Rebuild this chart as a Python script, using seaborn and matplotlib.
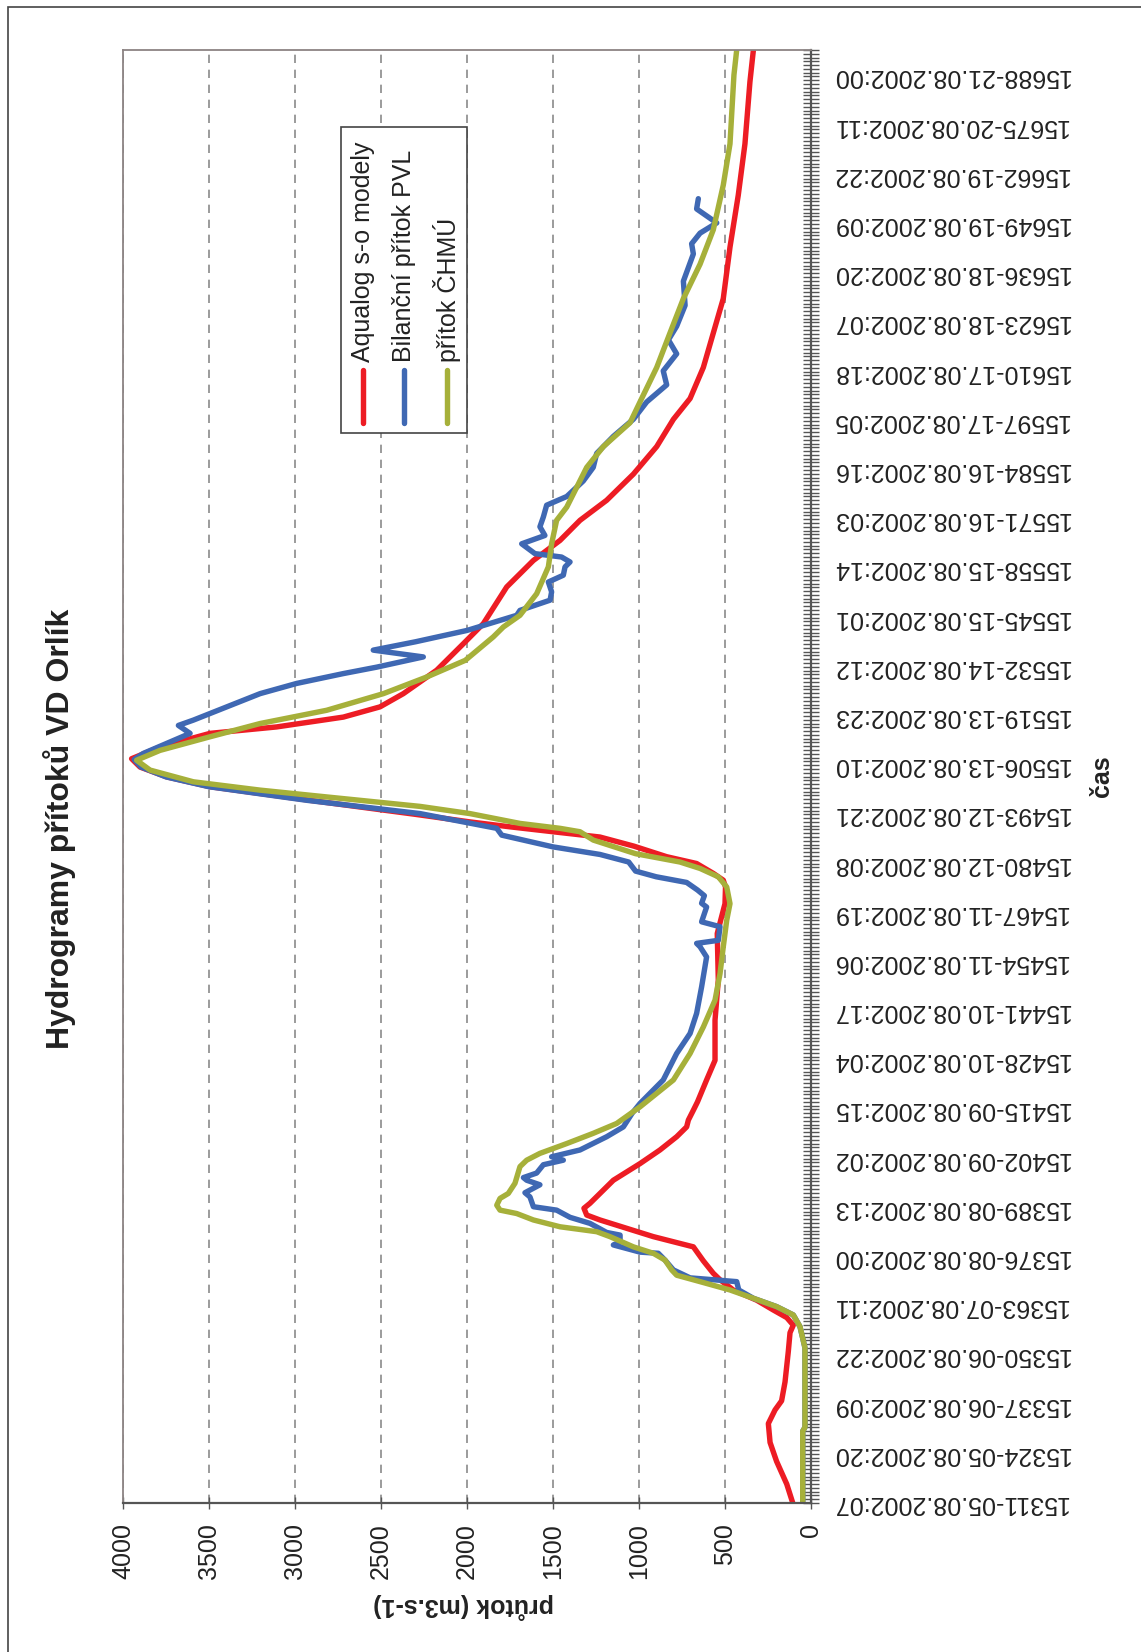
import numpy as np
import pandas as pd
import matplotlib
matplotlib.use('Agg')
import matplotlib.pyplot as plt
from matplotlib.patches import Rectangle
from matplotlib.lines import Line2D
import seaborn as sns

# Hydrogram data (hour index, flow m3/s)
red_t = [15311, 15316, 15322, 15327, 15332, 15335.6, 15338, 15343, 15351, 15356, 15358, 15360,
         15362, 15364.6, 15367.3, 15370, 15371.7, 15375, 15378.7, 15379.6, 15381.4, 15383.6,
         15385.8, 15387.1, 15388.9, 15390.2, 15396.3, 15400.7, 15404.3, 15407.8, 15410.4,
         15412.2, 15414.8, 15417, 15422.8, 15428, 15438.6, 15449.2, 15461.5, 15469.4, 15473.8,
         15475.6, 15477.4, 15480, 15481.8, 15484.6, 15487, 15488.4, 15489.7, 15491, 15493,
         15496.7, 15500.3, 15502.9, 15505.5, 15507.7, 15510.8, 15514.4, 15516.1, 15518.7,
         15521.4, 15524.9, 15531.1, 15538.1, 15543.4, 15553.1, 15560.1, 15565.4, 15570.7,
         15576, 15582.9, 15590.2, 15597.4, 15602.9, 15611.1, 15620.2, 15629.3, 15642.9,
         15656.6, 15670.2, 15686.6, 15695]
red_v = [106, 141, 200, 238, 248, 209, 171, 151, 132, 122, 103, 141,
         219, 316, 452, 529, 568, 626, 684, 762, 917, 1072,
         1227, 1304, 1320, 1285, 1149, 994, 878, 781, 723,
         713, 684, 660, 607, 558, 558, 539, 545, 500, 497,
         510, 568, 665, 839, 1030, 1227, 1500, 1750, 1983, 2300,
         2913, 3494, 3746, 3901, 3950, 3785, 3494, 3107, 2719,
         2506, 2370, 2176, 2021, 1905, 1769, 1614, 1459, 1343,
         1188, 1033, 897, 800, 703, 626, 568, 510, 471,
         423, 384, 355, 335]

blue_t = [15311, 15330, 15331, 15352, 15357.6, 15360.7, 15362.9, 15365.1, 15367.3, 15369.5,
          15370.5, 15372.6, 15375.2, 15377, 15377.3, 15379.2, 15380, 15381.8, 15382.5, 15384.9,
          15386.5, 15388.4, 15389.3, 15391.9, 15393, 15395.1, 15396.3, 15397, 15398.2, 15400.4,
          15401.6, 15402.5, 15404.3, 15407.8, 15410.4, 15414, 15416.6, 15422.8, 15429.8, 15435.1,
          15440.4, 15447.4, 15455.3, 15458, 15458.9, 15459.7, 15463.3, 15464.6, 15468.5, 15469.5,
          15471.5, 15473, 15475, 15476.5, 15478, 15480.4, 15482.4, 15484.4, 15487.5, 15489.3,
          15493.2, 15496.7, 15500.3, 15502.9, 15505.5, 15507.5, 15509.1, 15514.4, 15516.5,
          15517.9, 15521.4, 15524.9, 15527.6, 15530.2, 15531.9, 15534.6, 15536.4, 15538.6,
          15541.6, 15545.6, 15546.9, 15549.6, 15551.8, 15554.4, 15556.2, 15558.4, 15559.7,
          15561, 15561.9, 15564.5, 15566.7, 15569, 15571.6, 15574.7, 15577, 15581.1, 15584.7,
          15588.4, 15592.9, 15597.4, 15602, 15606.5, 15610.2, 15614.7, 15618.4, 15622, 15627.5,
          15633.9, 15641.1, 15643.8, 15646.6, 15649.3, 15653, 15655.7]
blue_v = [48, 48, 35, 35, 64, 103, 200, 335, 420, 432,
          703, 800, 849, 888, 994, 1149, 1110, 1110, 1188, 1285,
          1401, 1479, 1614, 1634, 1663, 1576, 1653, 1672, 1595, 1556,
          1440, 1508, 1343, 1188, 1091, 1040, 994, 859, 781, 703,
          665, 636, 607, 645, 665, 539, 529, 636, 607, 636,
          620, 660, 723, 900, 1020, 1060, 1227, 1500, 1798, 1827,
          2273, 2930, 3500, 3750, 3895, 3935, 3882, 3610, 3678,
          3591, 3397, 3203, 2990, 2719, 2525, 2254, 2545, 2300,
          2000, 1711, 1692, 1517, 1508, 1527, 1440, 1430, 1401,
          1450, 1605, 1682, 1547, 1576, 1556, 1537, 1420, 1324, 1266,
          1246, 1149, 1033, 955, 839, 859, 781, 829, 781, 732,
          742, 684, 694, 645, 548, 665, 655]

green_t = [15311, 15330, 15331, 15352, 15357.6, 15360.7, 15362.9, 15365.1, 15367.3, 15369.5,
           15371.2, 15372.6, 15375.2, 15377, 15378.7, 15381.4, 15382.7, 15384, 15385.8, 15387.5,
           15388.4, 15389.7, 15391.5, 15392.8, 15395.5, 15399.9, 15401.6, 15403.4, 15406,
           15408.7, 15411.3, 15415.7, 15422.8, 15429.8, 15436.8, 15443.9, 15450.9, 15458,
           15465, 15469.4, 15473.8, 15476.5, 15478.7, 15480.4, 15482.6, 15486.2, 15488.4,
           15489.3, 15490.6, 15493.2, 15495.1, 15497.6, 15499.4, 15501.6, 15504.7, 15507.3,
           15509.9, 15513.5, 15517, 15520.5, 15524.9, 15529.3, 15533.7, 15539.9, 15542.5,
           15545.6, 15551.3, 15558.4, 15564.5, 15570.7, 15574.2, 15584.7, 15590.2, 15596.5,
           15602, 15611.1, 15620.2, 15629.3, 15638.4, 15647.5, 15659.3, 15670.2, 15688.4, 15695]
green_v = [48, 48, 35, 35, 64, 103, 200, 335, 471, 645,
           781, 810, 849, 917, 1033, 1169, 1246, 1459, 1614, 1711,
           1808, 1827, 1808, 1760, 1721, 1692, 1653, 1576, 1420,
           1266, 1130, 994, 800, 703, 626, 558, 529, 510,
           490, 471, 490, 539, 645, 762, 1020, 1266, 1343,
           1459, 1692, 1983, 2273, 2816, 3203, 3591, 3843, 3921,
           3785, 3494, 3203, 2816, 2486, 2234, 2010, 1847, 1789,
           1692, 1595, 1527, 1508, 1479, 1420, 1304, 1207, 1052,
           994, 897, 820, 742, 645, 568, 510, 471, 448, 432]

series_names = ['Aqualog s-o modely', 'Bilanční přítok PVL', 'přítok ČHMÚ']
series_colors = ['#ed1c24', '#3f68b3', '#a6b03a']

time_labels = ['15311-05.08.2002:07', '15324-05.08.2002:20', '15337-06.08.2002:09',
               '15350-06.08.2002:22', '15363-07.08.2002:11', '15376-08.08.2002:00',
               '15389-08.08.2002:13', '15402-09.08.2002:02', '15415-09.08.2002:15',
               '15428-10.08.2002:04', '15441-10.08.2002:17', '15454-11.08.2002:06',
               '15467-11.08.2002:19', '15480-12.08.2002:08', '15493-12.08.2002:21',
               '15506-13.08.2002:10', '15519-13.08.2002:23', '15532-14.08.2002:12',
               '15545-15.08.2002:01', '15558-15.08.2002:14', '15571-16.08.2002:03',
               '15584-16.08.2002:16', '15597-17.08.2002:05', '15610-17.08.2002:18',
               '15623-18.08.2002:07', '15636-18.08.2002:20', '15649-19.08.2002:09',
               '15662-19.08.2002:22', '15675-20.08.2002:11', '15688-21.08.2002:00']
flow_ticks = [0, 500, 1000, 1500, 2000, 2500, 3000, 3500, 4000]

df = pd.concat([
    pd.DataFrame({'t': red_t, 'q': red_v, 'serie': series_names[0]}),
    pd.DataFrame({'t': blue_t, 'q': blue_v, 'serie': series_names[1]}),
    pd.DataFrame({'t': green_t, 'q': green_v, 'serie': series_names[2]}),
])

sns.set_theme(style='white')
plt.rcParams['font.family'] = ['Liberation Sans', 'DejaVu Sans']

W, H = 1141, 1652
fig = plt.figure(figsize=(W / 100, H / 100), dpi=100)
ax = fig.add_axes([123 / W, 149 / H, (811 - 123) / W, (1503 - 50) / H])

sns.lineplot(data=df, x='q', y='t', hue='serie', hue_order=series_names,
             palette=series_colors, orient='y', estimator=None, sort=True,
             lw=3.9, legend=False, ax=ax)
for ln in ax.lines:
    ln.set_solid_joinstyle('round')
    ln.set_solid_capstyle('round')

ax.set_xlim(4000, 0)
ax.set_ylim(15311, 15695)
ax.set_xlabel('')
ax.set_ylabel('')

# value axis (drawn at the bottom, rotated chart)
ax.set_xticks(flow_ticks)
ax.set_xticklabels([str(v) for v in flow_ticks], rotation=90, fontsize=18, color='#222222')
ax.grid(axis='x', linestyle=(0, (5, 4)), color='#8a8a8a', lw=1.2)
ax.grid(axis='y', visible=False)
ax.set_axisbelow(True)

# time axis on the right, upside-down labels
ax.yaxis.tick_right()
ax.set_yticks([int(s.split('-')[0]) for s in time_labels])
ax.set_yticklabels(time_labels, rotation=180, fontsize=18, color='#222222', va='center')
ax.set_yticks(np.arange(15311, 15696), minor=True)
ax.tick_params(axis='y', which='both', direction='inout', length=12, width=1,
               color='#555555', pad=9, right=True, left=False)
ax.tick_params(axis='x', which='major', direction='inout', length=9, width=1,
               color='#555555', pad=10, bottom=True)

for side in ['left', 'top']:
    ax.spines[side].set_color('#8c8484')
    ax.spines[side].set_linewidth(1.3)
for side in ['bottom', 'right']:
    ax.spines[side].set_color('#555555')
    ax.spines[side].set_linewidth(1.6)

# texts
fig.text(60 / W, 1 - 829 / H, 'Hydrogramy přítoků VD Orlík', rotation=90,
         ha='center', va='center', fontsize=23, fontweight='bold', color='#222222')
fig.text(464 / W, 1 - 1606 / H, 'průtok (m3.s-1)', rotation=180,
         ha='center', va='center', fontsize=18, fontweight='bold', color='#222222')
fig.text(1102 / W, 1 - 776 / H, 'čas', rotation=90,
         ha='center', va='center', fontsize=18, fontweight='bold', color='#222222')

# legend (rotated, built by hand)
fig.patches.append(Rectangle((341 / W, 1 - 433 / H), 126 / W, 306 / H,
                             transform=fig.transFigure, facecolor='white',
                             edgecolor='#444444', lw=1.2, zorder=5))
for xpos, name, col in zip([363, 404, 447], series_names, series_colors):
    fig.lines.append(Line2D([xpos / W, xpos / W], [1 - 423 / H, 1 - 370 / H],
                            transform=fig.transFigure, color=col, lw=3.9,
                            solid_capstyle='round', zorder=6))
    fig.text(xpos / W, 1 - 362 / H, name, rotation=90, rotation_mode='anchor',
             ha='left', va='center', fontsize=18, color='#222222', zorder=7)

# outer frame
fig.patches.append(Rectangle((8 / W, -0.05), 1.2, 1.05 - 7 / H,
                             transform=fig.transFigure, fill=False,
                             edgecolor='#444444', lw=1.2))

fig.savefig('out.png', dpi=100)
